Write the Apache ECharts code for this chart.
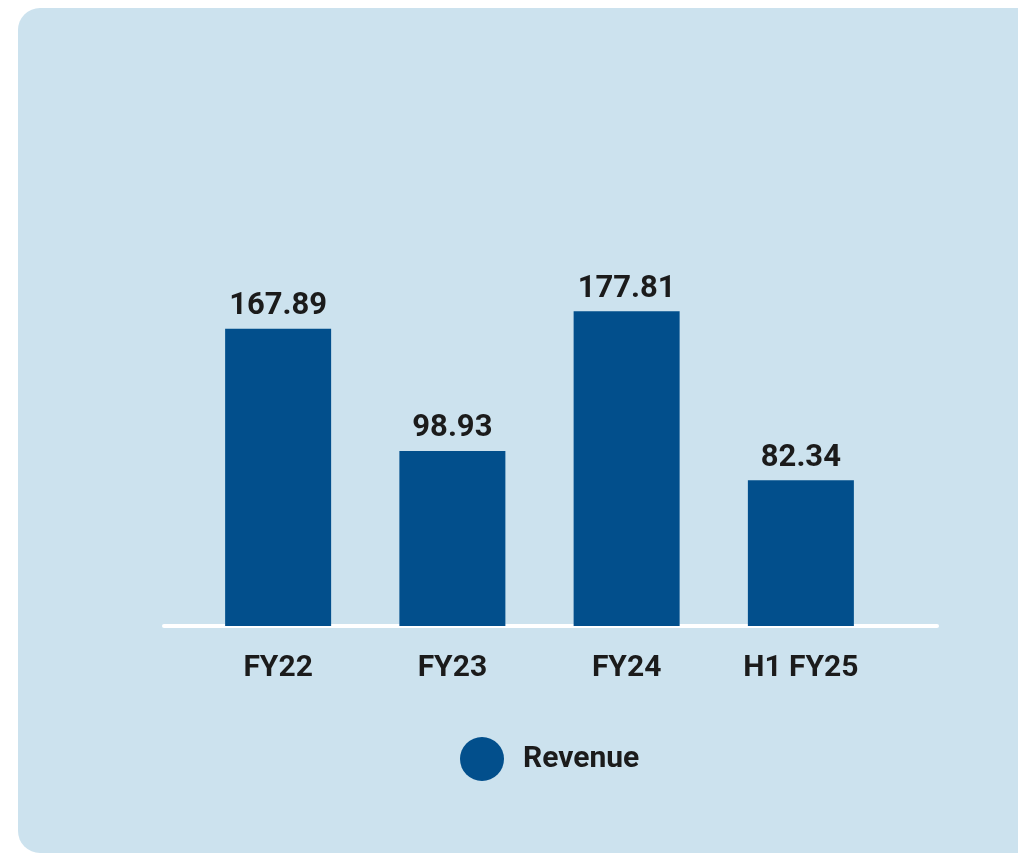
<!DOCTYPE html>
<html>
<head>
<meta charset="utf-8">
<script src="https://cdn.jsdelivr.net/npm/echarts@6/dist/echarts.min.js"></script>
<style>
html,body{margin:0;padding:0;background:#ffffff;}
#chart{width:1018px;height:855px;}
</style>
</head>
<body>
<div id="chart"></div>
<script>
const categories = ['FY22', 'FY23', 'FY24', 'H1 FY25'];
const revenue = [167.89, 98.93, 177.81, 82.34];
const seriesName = 'Revenue';

const chart = echarts.init(document.getElementById('chart'), null, {renderer: 'canvas'});
const barColor = '#024f8c';
const textColor = '#1b1b1b';
const fontFamily = 'Roboto, "Noto Sans", sans-serif';

chart.setOption({
  backgroundColor: '#ffffff',
  animation: false,
  graphic: [{
    type: 'rect',
    z: -10,
    silent: true,
    shape: {x: 18, y: 8, width: 1040, height: 845, r: 22},
    style: {fill: '#cce2ee'}
  }],
  grid: [
    {left: 191, right: 130, top: 272, bottom: 229},
    {left: 164, right: 81, top: 272, bottom: 229}
  ],
  xAxis: [
    {
      type: 'category',
      gridIndex: 0,
      data: categories,
      axisLine: {show: false},
      axisTick: {show: false},
      axisLabel: {
        margin: 27,
        color: textColor,
        fontSize: 30,
        fontWeight: 'bold',
        fontFamily: fontFamily
      }
    },
    {
      type: 'category',
      gridIndex: 1,
      data: categories,
      axisLine: {show: true, lineStyle: {color: '#ffffff', width: 4}},
      axisTick: {show: false},
      axisLabel: {show: false}
    }
  ],
  yAxis: [
    {type: 'value', gridIndex: 0, min: 0, max: 200, show: false, splitLine: {show: false}},
    {type: 'value', gridIndex: 1, min: 0, max: 200, show: false, splitLine: {show: false}}
  ],
  legend: {
    left: 455,
    top: 732,
    itemWidth: 44,
    itemHeight: 44,
    icon: 'circle',
    data: [seriesName],
    textStyle: {
      color: textColor,
      fontSize: 30,
      fontWeight: 'bold',
      fontFamily: fontFamily,
      padding: [0, 0, 0, 14]
    }
  },
  series: [{
    name: seriesName,
    type: 'bar',
    xAxisIndex: 0,
    yAxisIndex: 0,
    data: revenue,
    barWidth: 106,
    itemStyle: {color: barColor},
    label: {
      show: true,
      position: 'top',
      distance: 7,
      color: textColor,
      fontSize: 31,
      fontWeight: 'bold',
      fontFamily: fontFamily,
      formatter: p => p.value.toFixed(2)
    }
  }]
});
</script>
</body>
</html>
